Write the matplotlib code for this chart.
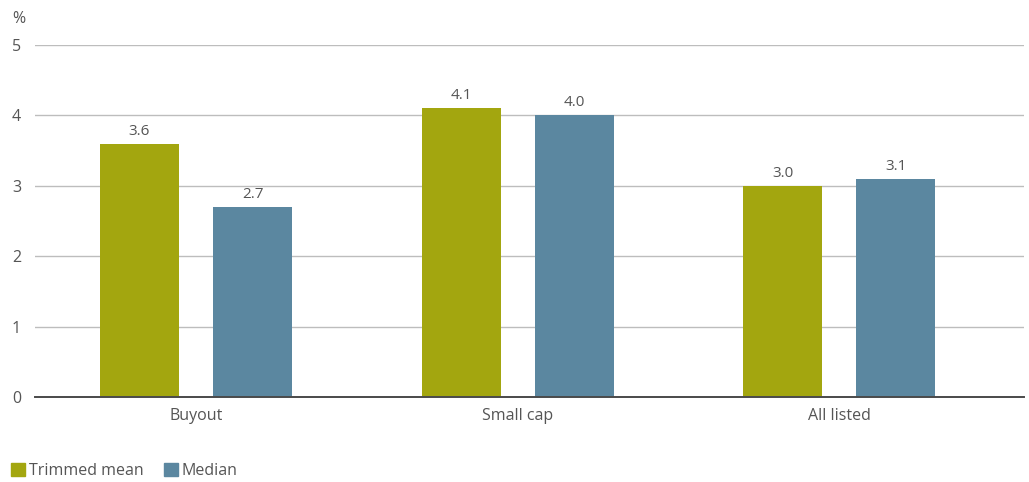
import matplotlib.pyplot as plt
import matplotlib.patches as mpatches
import numpy as np

categories = ["Buyout", "Small cap", "All listed"]
trimmed_mean = [3.6, 4.1, 3.0]
median = [2.7, 4.0, 3.1]
series_names = ["Trimmed mean", "Median"]
yticks = [0, 1, 2, 3, 4, 5]

olive = "#A3A60F"
steel = "#5B87A0"
text_col = "#555555"

plt.rcParams["font.family"] = ["Open Sans", "DejaVu Sans"]

fig = plt.figure(figsize=(10.29, 4.82), dpi=100)
ax = fig.add_axes([35 / 1029, 1 - 397 / 482, 989 / 1029, (397 - 45) / 482])

x = np.arange(len(categories))
w = 0.2457
off = 0.1757
b1 = ax.bar(x - off, trimmed_mean, w, color=olive, zorder=3)
b2 = ax.bar(x + off, median, w, color=steel, zorder=3)

for bars, vals in ((b1, trimmed_mean), (b2, median)):
    for r, v in zip(bars, vals):
        ax.text(r.get_x() + r.get_width() / 2, v + 0.07, f"{v:.1f}",
                ha="center", va="bottom", fontsize=11, color=text_col)

ax.set_xlim(-0.5008, 2.575)
ax.set_ylim(0, 5)
ax.set_yticks(yticks)
ax.set_yticklabels([str(t) for t in yticks])
ax.set_xticks(x)
ax.set_xticklabels(categories)
ax.tick_params(axis="both", length=0, labelsize=11.5, colors=text_col)
ax.tick_params(axis="y", pad=10)
ax.tick_params(axis="x", pad=8)
ax.yaxis.grid(True, color="#BDBDBD", linewidth=1, zorder=0)
for s in ("top", "right", "left"):
    ax.spines[s].set_visible(False)
ax.spines["bottom"].set_color("#4A4A4A")
ax.spines["bottom"].set_linewidth(1.4)
ax.spines["bottom"].set_zorder(4)

fig.text(12 / 1029, 1 - 19 / 482, "%", fontsize=11.5, color=text_col,
         ha="left", va="center")

handles = [mpatches.Patch(color=olive), mpatches.Patch(color=steel)]
fig.legend(handles, series_names, loc="lower left",
           bbox_to_anchor=(0.0, -0.017), ncol=2, frameon=False,
           fontsize=11.5, labelcolor=text_col, handlelength=0.85,
           handleheight=0.85, handletextpad=0.25, columnspacing=1.3,
           borderaxespad=0.3)

fig.savefig("out.png", dpi=100)
